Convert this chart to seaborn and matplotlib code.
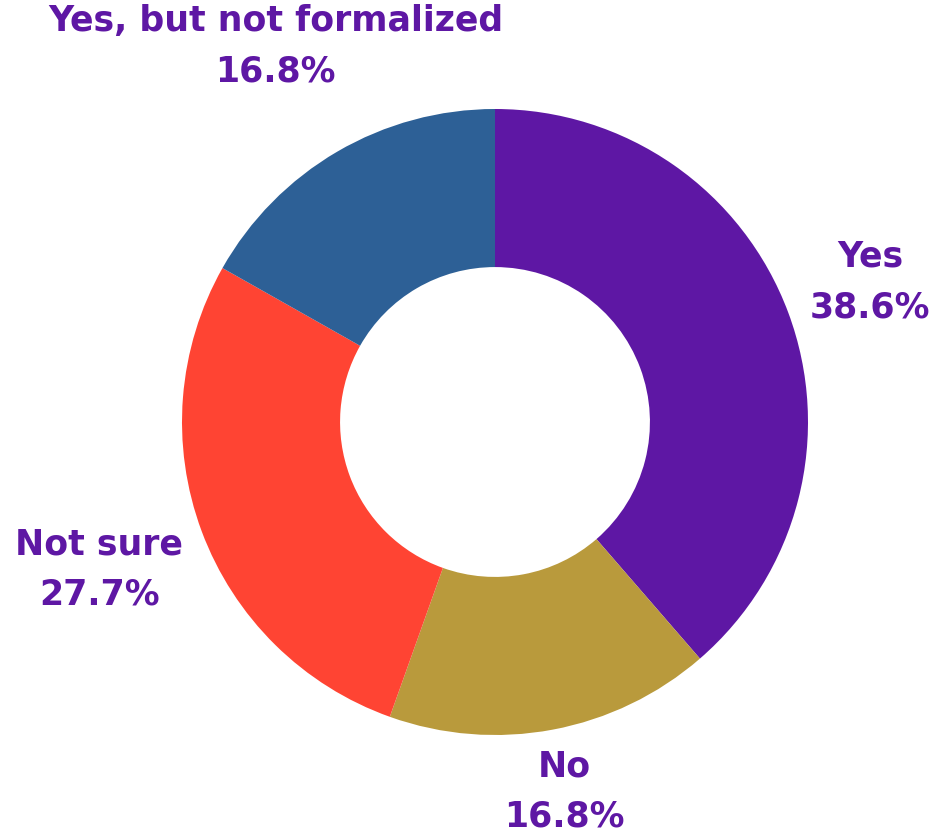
import matplotlib
matplotlib.use("Agg")
import matplotlib.pyplot as plt
import seaborn as sns
import numpy as np

sns.set_theme(style="white")
plt.rcParams['font.family'] = ['DejaVu Sans']

categories = ["Yes", "No", "Not sure", "Yes, but not formalized"]
values = [38.6, 16.8, 27.7, 16.8]
colors = ["#5E17A4", "#B99A3C", "#FF4433", "#2D6096"]
label_dist = [1.28, 1.20, 1.35, 1.39]
label_color = "#5E17A4"

fig = plt.figure(figsize=(9.35, 8.35), dpi=100)
ax = fig.add_axes([0, 0, 1, 1])
ax.set_xlim(0, 935)
ax.set_ylim(0, 835)
ax.set_aspect("equal")
ax.axis("off")

cx, cy, R = 495, 413, 313
wedges, _ = ax.pie(values, colors=colors, startangle=90, counterclock=False,
                   center=(cx, cy), radius=R,
                   wedgeprops=dict(width=R * 0.505, linewidth=0))

for w, cat, v, d in zip(wedges, categories, values, label_dist):
    ang = np.deg2rad((w.theta1 + w.theta2) / 2)
    x = cx + d * R * np.cos(ang)
    y = cy + d * R * np.sin(ang)
    ax.text(x, y, f"{cat}\n{v:.1f}%", ha="center", va="center",
            fontsize=25, fontweight="bold", color=label_color, linespacing=1.6)

ax.set_xlim(0, 935)
ax.set_ylim(0, 835)
fig.savefig("out.png", dpi=100)
